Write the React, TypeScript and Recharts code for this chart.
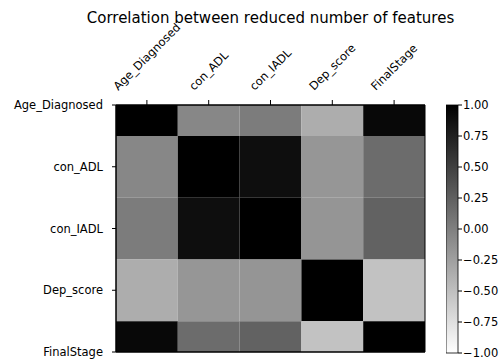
import React from 'react';
import { ScatterChart, Scatter, XAxis, YAxis, ReferenceArea, ComposedChart } from 'recharts';

const features = ['Age_Diagnosed', 'con_ADL', 'con_IADL', 'Dep_score', 'FinalStage'];

// correlation matrix rows
const rowAge = [1.0, -0.06, 0.03, -0.36, 0.94];
const rowADL = [-0.06, 1.0, 0.89, -0.18, 0.15];
const rowIADL = [0.03, 0.89, 1.0, -0.17, 0.23];
const rowDep = [-0.36, -0.18, -0.17, 1.0, -0.52];
const rowFinal = [0.94, 0.15, 0.23, -0.52, 1.0];
const corrRows = [rowAge, rowADL, rowIADL, rowDep, rowFinal];

const featureTicks = [0, 1, 2, 3, 4];
const colorbarTicks = [-1, -0.75, -0.5, -0.25, 0, 0.25, 0.5, 0.75, 1];

const FONT = 'DejaVu Sans';
const FS = 11.5;

// gray_r colormap: 1 -> black, -1 -> white
function grayOf(v: number) {
  const g = Math.round(((1 - v) / 2) * 255);
  return `rgb(${g},${g},${g})`;
}

function fmtBar(v: number) {
  return v < 0 ? `\u2212${Math.abs(v).toFixed(2)}` : v.toFixed(2);
}

let ctx: CanvasRenderingContext2D | null = null;
function textWidth(s: string) {
  if (!ctx) ctx = document.createElement('canvas').getContext('2d');
  if (!ctx) return s.length * FS * 0.6;
  ctx.font = `${FS}px "${FONT}"`;
  return ctx.measureText(s).width;
}

const cells = corrRows.flatMap((row, r) => row.map((value, c) => ({ x: c, y: r, value })));

const TopTick = (props: any) => {
  const { x, y, payload } = props;
  const label = features[payload.value];
  const half = ((textWidth(label) + FS * 1.16) * Math.SQRT1_2) / 2;
  return (
    <text
      x={0} y={0}
      transform={`translate(${x},${y - half}) rotate(-45)`}
      textAnchor="middle" dominantBaseline="central"
      fontSize={FS} fontFamily={FONT} fill="#000"
    >
      {label}
    </text>
  );
};

const axisStyle = { stroke: '#000', strokeWidth: 1 };

export default function App() {
  const last = features.length - 1;
  return (
    <div style={{ position: 'absolute', left: 0, top: 0, width: 504, height: 362, background: '#fff', fontFamily: FONT }}>
      <div style={{ position: 'absolute', left: 0, top: 10, width: 541, textAlign: 'center', fontSize: 15, lineHeight: '16px', color: '#000' }}>
        Correlation between reduced number of features
      </div>

      <div style={{ position: 'absolute', left: 0, top: 0 }}>
        <ScatterChart width={504} height={362} margin={{ top: 5, right: 79, bottom: 0, left: 0 }}>
          <XAxis
            xAxisId="top" orientation="top" type="number" dataKey="x"
            domain={[-0.5, 4.5]} ticks={featureTicks} interval={0} allowDataOverflow
            height={100} tickSize={5} tickMargin={7}
            axisLine={axisStyle} tickLine={axisStyle} tick={<TopTick />}
          />
          <XAxis
            xAxisId="bot" orientation="bottom" type="number"
            domain={[-0.5, 4.5]} ticks={featureTicks} interval={0} allowDataOverflow
            height={10} tickSize={4}
            axisLine={axisStyle} tickLine={axisStyle} tick={() => <g />}
          />
          <YAxis
            type="number" dataKey="y" domain={[0, last]} reversed allowDataOverflow
            ticks={featureTicks} interval={0} width={116} tickSize={4} tickMargin={9}
            tickFormatter={(i: number) => features[i]}
            axisLine={axisStyle} tickLine={axisStyle}
            tick={{ fontSize: FS, fill: '#000', fontFamily: FONT }}
          />
          {cells.map((c) => (
            <ReferenceArea
              key={`${c.x}-${c.y}`}
              xAxisId="top"
              x1={c.x - 0.5} x2={c.x + 0.5}
              y1={Math.max(0, c.y - 0.5)} y2={Math.min(last, c.y + 0.5)}
              fill={grayOf(c.value)} fillOpacity={1} stroke="none"
              ifOverflow="visible"
            />
          ))}
          <ReferenceArea
            xAxisId="top" x1={-0.5} x2={4.5} y1={0} y2={last}
            fill="none" stroke="#000" strokeWidth={1} ifOverflow="visible"
          />
          <Scatter xAxisId="top" data={cells} fill="none" isAnimationActive={false} legendType="none" />
        </ScatterChart>
      </div>

      <div style={{ position: 'absolute', left: 446, top: 0 }}>
        <ComposedChart width={58} height={362} margin={{ top: 105, right: 0, bottom: 9, left: 0 }}>
          <defs>
            <linearGradient id="cbarGrad" x1="0" y1="0" x2="0" y2="1">
              <stop offset="0%" stopColor="#000" />
              <stop offset="100%" stopColor="#fff" />
            </linearGradient>
          </defs>
          <XAxis type="number" dataKey="x" domain={[0, 1]} hide />
          <YAxis
            orientation="right" type="number" dataKey="y" domain={[-1, 1]}
            ticks={colorbarTicks} interval={0} width={46} tickSize={4} tickMargin={1}
            axisLine={false} tickLine={axisStyle} tickFormatter={fmtBar}
            tick={{ fontSize: FS, fill: '#000', fontFamily: FONT, textAnchor: 'start' }}
          />
          <ReferenceArea
            x1={0} x2={1} y1={-1} y2={1}
            fill="url(#cbarGrad)" fillOpacity={1} stroke="#000" strokeWidth={0.8}
            ifOverflow="visible"
          />
          <Scatter data={[{ x: 0, y: -1 }, { x: 1, y: 1 }]} fill="none" isAnimationActive={false} legendType="none" />
        </ComposedChart>
      </div>
    </div>
  );
}
